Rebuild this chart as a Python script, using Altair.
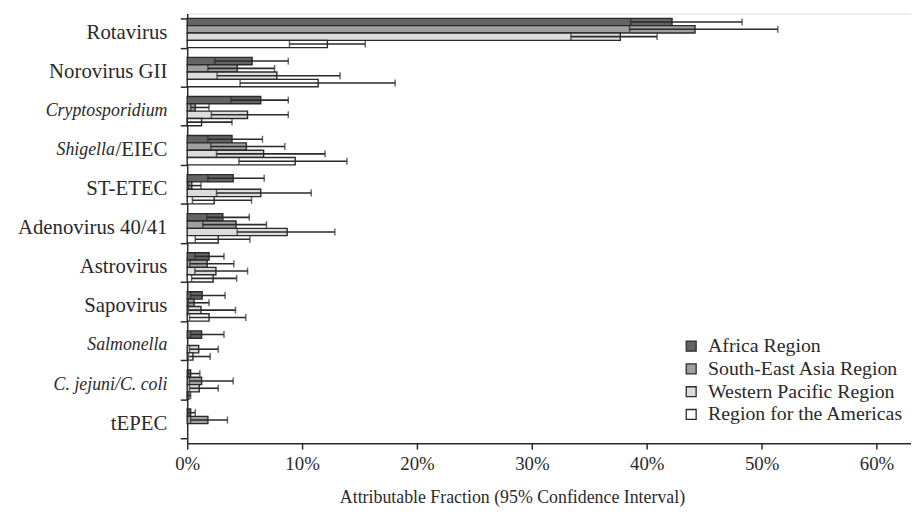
import altair as alt
import pandas as pd

pathogens = ["Rotavirus", "Norovirus GII", "Cryptosporidium", "Shigella/EIEC", "ST-ETEC",
             "Adenovirus 40/41", "Astrovirus", "Sapovirus", "Salmonella",
             "C. jejuni/C. coli", "tEPEC"]
label_roman = ["Rotavirus", "Norovirus GII", "", "/EIEC", "ST-ETEC", "Adenovirus 40/41",
               "Astrovirus", "Sapovirus", "", "", "tEPEC"]
label_italic = ["", "", "Cryptosporidium", "Shigella", "", "", "", "", "Salmonella",
                "C. jejuni/C. coli", ""]

regions = ["Africa Region", "South-East Asia Region", "Western Pacific Region",
           "Region for the Americas"]
region_colors = ["#646464", "#a0a0a0", "#dcdcdc", "#ffffff"]

# attributable fraction (%) with 95% CI, per region
af_africa = [42.2, 5.65, 6.4, 3.9, 4.0, 3.1, 1.9, 1.3, 1.25, 0.3, 0.3]
lo_africa = [38.6, 2.4, 3.8, 1.8, 1.8, 1.7, 0.67, 0.3, 0.3, 0.05, 0.05]
hi_africa = [48.3, 8.8, 8.8, 6.55, 6.7, 5.4, 3.2, 3.3, 3.2, 1.1, 0.7]

af_sea = [44.2, 4.35, 0.7, 5.15, 0.4, 4.25, 1.74, 0.6, None, 1.25, 1.8]
lo_sea = [38.5, 1.8, 0.3, 2.05, 0.1, 1.35, 0.23, 0.1, None, 0.2, 0.3]
hi_sea = [51.4, 7.6, 1.9, 8.5, 1.2, 6.9, 4.06, 1.9, None, 4.0, 3.5]

af_wp = [37.7, 7.8, 5.25, 6.65, 6.4, 8.7, 2.5, 1.2, 1.0, 1.05, None]
lo_wp = [33.4, 2.6, 2.1, 2.55, 2.55, 4.35, 0.67, 0.1, 0.2, 0.2, None]
hi_wp = [40.9, 13.3, 8.8, 12.0, 10.8, 12.85, 5.25, 4.2, 2.7, 2.7, None]

af_am = [12.2, 11.4, 1.25, 9.4, 2.35, 2.7, 2.26, 1.9, 0.5, 0.15, None]
lo_am = [8.9, 4.6, 0.0, 4.5, 0.45, 0.7, 0.38, 0.2, 0.1, 0.0, None]
hi_am = [15.5, 18.1, 3.9, 13.9, 5.6, 5.45, 4.3, 5.1, 2.0, 0.3, None]

x_ticks = [0, 10, 20, 30, 40, 50, 60]

series = [(af_africa, lo_africa, hi_africa), (af_sea, lo_sea, hi_sea),
          (af_wp, lo_wp, hi_wp), (af_am, lo_am, hi_am)]
rows = []
for reg, (af, lo, hi) in zip(regions, series):
    for p, a, l, h in zip(pathogens, af, lo, hi):
        if a is None:
            continue
        rows.append({"pathogen": p, "region": reg, "af": a, "lo": l, "hi": h})
df = pd.DataFrame(rows)
lab = pd.DataFrame({"pathogen": pathogens, "roman": label_roman, "italic": label_italic})

FONT = "Liberation Serif"
INK = "#2a2a2a"

y_enc = alt.Y("pathogen:N",
              scale=alt.Scale(domain=pathogens, paddingInner=0.25, paddingOuter=0.125),
              axis=alt.Axis(labels=False, title=None, tickBand="extent", tickSize=7,
                            grid=False,
                            domainColor=INK, tickColor=INK, domainWidth=1.5, tickWidth=1.5))
yoff = alt.YOffset("region:N", scale=alt.Scale(domain=regions, paddingInner=0, paddingOuter=0))
x_scale = alt.Scale(domain=[0, 63], nice=False, zero=True)

bars = alt.Chart(df).mark_bar(stroke=INK, strokeWidth=1.4).encode(
    x=alt.X("af:Q", scale=x_scale,
            axis=alt.Axis(values=x_ticks, labelExpr="datum.value + '%'",
                          title="Attributable Fraction (95% Confidence Interval)",
                          grid=False, tickSize=6, labelPadding=6, titlePadding=15,
                          labelFlush=False,
                          labelFont=FONT, labelFontSize=19, labelColor=INK,
                          titleFont=FONT, titleFontSize=18, titleFontWeight="normal",
                          titleColor=INK, titleX=328, domainColor=INK, tickColor=INK,
                          domainWidth=1.5, tickWidth=1.5)),
    y=y_enc,
    yOffset=yoff,
    fill=alt.Fill("region:N", scale=alt.Scale(domain=regions, range=region_colors),
                  legend=alt.Legend(title=None, orient="none", legendX=499, legendY=326,
                                    symbolType="square", symbolSize=100,
                                    symbolStrokeColor=INK, symbolStrokeWidth=1.3,
                                    labelFont=FONT, labelFontSize=20, labelColor=INK,
                                    labelLimit=400, labelOffset=7, rowPadding=3)),
)

rule = alt.Chart(df).mark_rule(color=INK, strokeWidth=1.6).encode(
    x=alt.X("lo:Q", scale=x_scale), x2="hi:Q", y=y_enc, yOffset=yoff)
cap_lo = alt.Chart(df).mark_tick(color=INK, thickness=1.5, size=7).encode(
    x=alt.X("lo:Q", scale=x_scale), y=y_enc, yOffset=yoff)
cap_hi = alt.Chart(df).mark_tick(color=INK, thickness=1.5, size=7).encode(
    x=alt.X("hi:Q", scale=x_scale), y=y_enc, yOffset=yoff)

txt_kw = dict(align="right", baseline="middle", font=FONT, color=INK)
t_roman = alt.Chart(lab).mark_text(fontSize=21, **txt_kw).encode(
    y=y_enc, x=alt.value(-20), text="roman:N")
t_ital_full = alt.Chart(lab).transform_filter("datum.roman == ''").mark_text(
    fontStyle="italic", fontSize=18, **txt_kw).encode(y=y_enc, x=alt.value(-20), text="italic:N")
t_ital_pre = alt.Chart(lab).transform_filter("datum.roman != '' && datum.italic != ''").mark_text(
    fontStyle="italic", fontSize=18, **txt_kw).encode(y=y_enc, x=alt.value(-73), text="italic:N")

chart = alt.layer(bars, rule, cap_lo, cap_hi, t_roman, t_ital_full, t_ital_pre).properties(
    width=731, height=434,
    autosize=alt.AutoSizeParams(type="none"),
    padding={"left": 181, "top": 3, "right": 0, "bottom": 68},
).configure_view(stroke="transparent", strokeWidth=0, strokeOpacity=0).configure_axis(
    grid=False).configure(background="white")

chart.save("out.html", embed_options={"renderer": "svg", "actions": False})
